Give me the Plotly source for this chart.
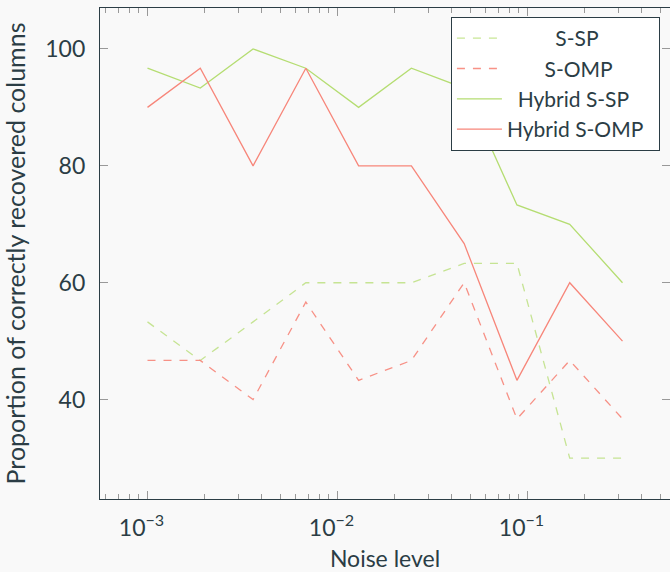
import numpy as np
import plotly.graph_objects as go

noise = [1.0e-3, 1.896e-3, 3.594e-3, 6.813e-3, 1.2915e-2, 2.4484e-2, 4.6416e-2, 8.799e-2, 1.6681e-1, 3.1623e-1]
s_sp = [53.3, 46.7, 53.3, 60.0, 60.0, 60.0, 63.3, 63.3, 30.0, 30.0]
s_omp = [46.7, 46.7, 40.0, 56.7, 43.3, 46.7, 60.0, 36.7, 46.7, 36.7]
hyb_sp = [96.7, 93.3, 100.0, 96.7, 90.0, 96.7, 93.3, 73.3, 70.0, 60.0]
hyb_omp = [90.0, 96.7, 80.0, 96.7, 80.0, 80.0, 66.7, 43.3, 60.0, 50.0]

GREEN = "#b5dd72"
RED = "#f7867a"
TXT = "#2b3d45"
NB = "\u00a0"

series = [
    (NB * 9 + "S-SP" + NB * 2, s_sp, GREEN, "8px,8px", 0.75),
    (NB * 7 + "S-OMP" + NB * 2, s_omp, RED, "8px,8px", 0.9),
    (NB * 2 + "Hybrid S-SP" + NB * 2, hyb_sp, GREEN, "solid", 1),
    ("Hybrid S-OMP" + NB * 2, hyb_omp, RED, "solid", 1),
]

fig = go.Figure()
for name, ys, col, dash, op in series:
    fig.add_trace(go.Scatter(x=noise, y=ys, mode="lines", name=name,
                             line=dict(color=col, width=1.3, dash=dash), opacity=op))

fig.update_layout(
    width=670, height=572,
    margin=dict(l=100, r=0, t=8, b=73),
    paper_bgcolor="#f9f9f9", plot_bgcolor="#f9f9f9",
    font=dict(family="Lato, DejaVu Sans, sans-serif", color=TXT, size=21),
    showlegend=True,
    legend=dict(x=0.982, y=0.982, xanchor="right", yanchor="top",
                bgcolor="white", bordercolor=TXT, borderwidth=1.2,
                font=dict(size=21, color=TXT), itemwidth=45,
                tracegroupgap=0),
)
fig.update_xaxes(
    type="log", range=[-3.25, -0.25],
    tickvals=[1e-3, 1e-2, 1e-1],
    ticktext=["10<sup>−3</sup>", "10<sup>−2</sup>", "10<sup>−1</sup>"],
    ticks="inside", ticklen=8, tickcolor="#999999", tickwidth=1.2,
    minor=dict(ticks="inside", ticklen=5, tickcolor="#999999", dtick="D1", showgrid=False),
    showline=True, linecolor=TXT, linewidth=1.3, mirror="ticks",
    showgrid=False, zeroline=False,
    title=dict(text="Noise level", font=dict(size=23), standoff=12),
    tickfont=dict(size=23), ticklabelstandoff=8, ticklabelshift=-6,
)
fig.update_yaxes(
    range=[23.0, 107.0],
    tickvals=[40, 60, 80, 100],
    ticks="inside", ticklen=8, tickcolor="#999999", tickwidth=1.2,
    showline=True, linecolor=TXT, linewidth=1.3, mirror="ticks",
    showgrid=False, zeroline=False,
    title=dict(text="Proportion of correctly recovered columns", font=dict(size=25), standoff=12),
    tickfont=dict(size=23), ticklabelstandoff=9,
)
fig.write_html("out.html")
